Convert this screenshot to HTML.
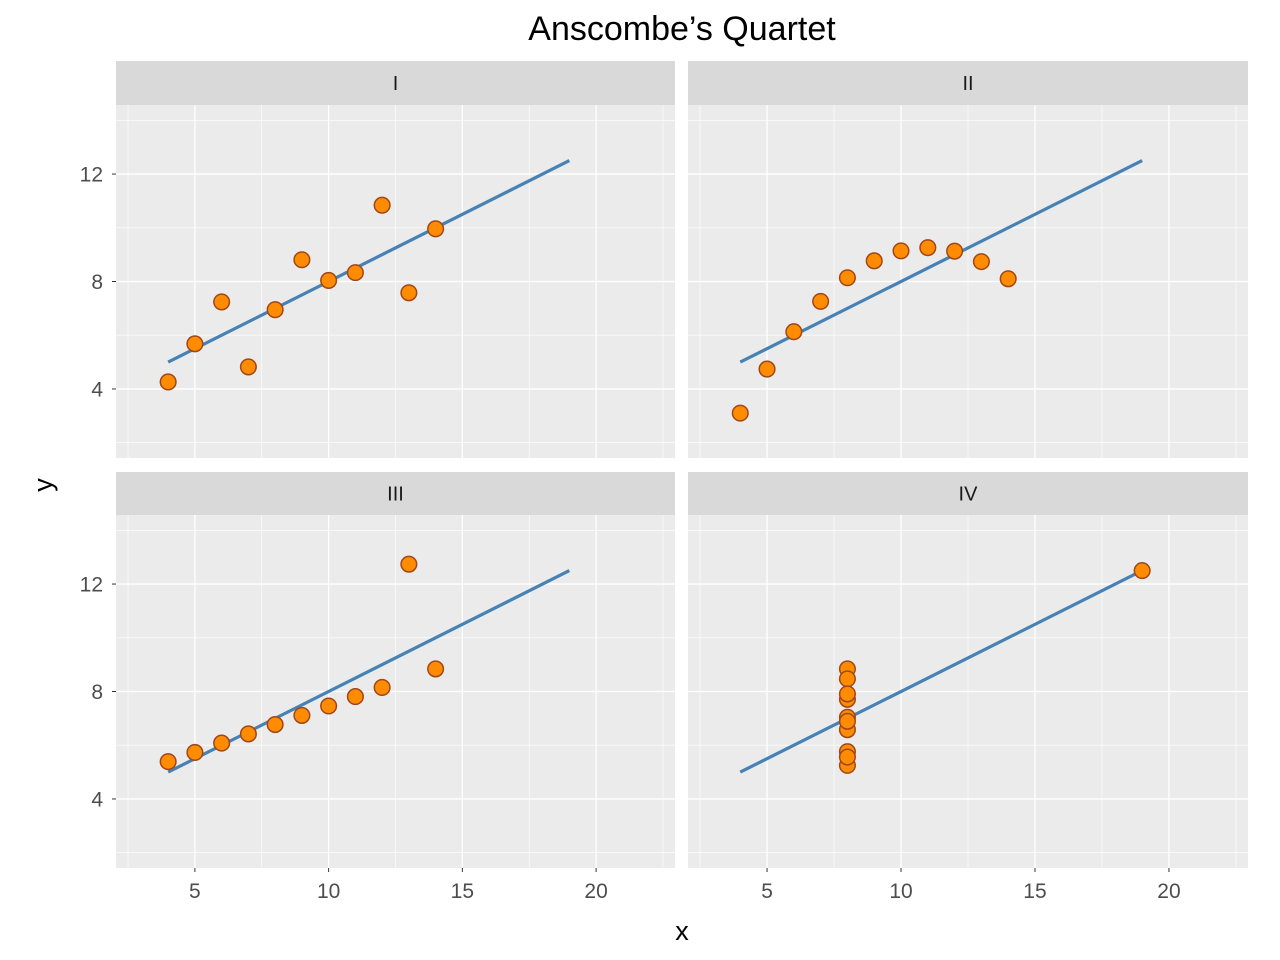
<!DOCTYPE html>
<html><head><meta charset="utf-8"><style>
html,body{margin:0;padding:0;background:#fff;}
svg{display:block;font-family:"Liberation Sans",sans-serif;}
</style></head><body>
<svg id="chart" width="1280" height="960" viewBox="0 0 1280 960" xmlns="http://www.w3.org/2000/svg">
<text x="682" y="40" font-size="34" text-anchor="middle" fill="#000">Anscombe’s Quartet</text>
<text x="682" y="940" font-size="27" text-anchor="middle" fill="#000">x</text>
<text x="52" y="485" font-size="27" text-anchor="middle" fill="#000" transform="rotate(-90 52 485)">y</text>
<g id="panels"></g>
</svg>
<script>
const panelNames = ["I","II","III","IV"];
const xI = [10,8,13,9,11,14,6,4,12,7,5];
const yI = [8.04,6.95,7.58,8.81,8.33,9.96,7.24,4.26,10.84,4.82,5.68];
const xII = [10,8,13,9,11,14,6,4,12,7,5];
const yII = [9.14,8.14,8.74,8.77,9.26,8.10,6.13,3.10,9.13,7.26,4.74];
const xIII = [10,8,13,9,11,14,6,4,12,7,5];
const yIII = [7.46,6.77,12.74,7.11,7.81,8.84,6.08,5.39,8.15,6.42,5.73];
const xIV = [8,8,8,8,8,8,8,19,8,8,8];
const yIV = [6.58,5.76,7.71,8.84,8.47,7.04,5.25,12.50,5.56,7.91,6.89];
const fitIntercept = 3.0;
const fitSlope = 0.5;
const fitRange = [4,19];
const xTicks = [5,10,15,20];
const xMinor = [2.5,7.5,12.5,17.5,22.5];
const yTicks = [4,8,12];
const yMinor = [2,6,10,14];

const NS="http://www.w3.org/2000/svg";
const root=document.getElementById('panels');
function mk(tag,attrs,parent){const e=document.createElementNS(NS,tag);for(const k in attrs)e.setAttribute(k,attrs[k]);parent.appendChild(e);return e;}
const xs=[xI,xII,xIII,xIV], ys=[yI,yII,yIII,yIV];
const XMIN=2.05,XMAX=22.95,YMIN=1.43,YMAX=14.57;
const layouts=[{l:116,r:675,t:105,b:458,st:61},{l:688,r:1248,t:105,b:458,st:61},{l:116,r:675,t:515,b:868,st:472},{l:688,r:1248,t:515,b:868,st:472}];
layouts.forEach((L,i)=>{
  const sx=v=>L.l+(v-XMIN)/(XMAX-XMIN)*(L.r-L.l);
  const sy=v=>L.b-(v-YMIN)/(YMAX-YMIN)*(L.b-L.t);
  const g=mk('g',{},root);
  
  
  const strip=mk('rect',{x:L.l,y:L.st,width:L.r-L.l,height:L.t-L.st,fill:'#D9D9D9'},g);
  
  
  const st=mk('text',{x:(L.l+L.r)/2,y:(L.st+L.t)/2+7,'font-size':20,'text-anchor':'middle',fill:'#1A1A1A'},g);
  st.textContent=panelNames[i];
  
  
  const bg=mk('rect',{x:L.l,y:L.t,width:L.r-L.l,height:L.b-L.t,fill:'#EBEBEB'},g);
  
  
  xMinor.forEach(v=>mk('line',{x1:sx(v),x2:sx(v),y1:L.t,y2:L.b,stroke:'#fff','stroke-width':0.6},g));
  yMinor.forEach(v=>mk('line',{x1:L.l,x2:L.r,y1:sy(v),y2:sy(v),stroke:'#fff','stroke-width':0.6},g));
  xTicks.forEach(v=>{
    const gl=mk('line',{x1:sx(v),x2:sx(v),y1:L.t,y2:L.b,stroke:'#fff','stroke-width':1.3},g);
    
    
    if(i>=2){
      mk('line',{x1:sx(v),x2:sx(v),y1:L.b,y2:L.b+4,stroke:'#333','stroke-width':1},g);
      const t=mk('text',{x:sx(v),y:L.b+30,'font-size':21,'text-anchor':'middle',fill:'#4D4D4D'},g);
      t.textContent=v;
      
      
    }
  });
  yTicks.forEach(v=>{
    const gl=mk('line',{x1:L.l,x2:L.r,y1:sy(v),y2:sy(v),stroke:'#fff','stroke-width':1.3},g);
    
    
    if(i%2===0){
      mk('line',{x1:L.l-4,x2:L.l,y1:sy(v),y2:sy(v),stroke:'#333','stroke-width':1},g);
      const t=mk('text',{x:L.l-13,y:sy(v)+7.5,'font-size':21,'text-anchor':'end',fill:'#4D4D4D'},g);
      t.textContent=v;
      
      
    }
  });
  const fl=mk('line',{x1:sx(fitRange[0]),y1:sy(fitIntercept+fitSlope*fitRange[0]),x2:sx(fitRange[1]),y2:sy(fitIntercept+fitSlope*fitRange[1]),stroke:'#4682B4','stroke-width':3.2},g);
  
  
  xs[i].forEach((xv,j)=>{
    const c=mk('circle',{cx:sx(xv),cy:sy(ys[i][j]),r:7.8,fill:'#FF8C00',stroke:'#A0461A','stroke-width':1.5},g);
    
    
  });
});
</script>
</body></html>
